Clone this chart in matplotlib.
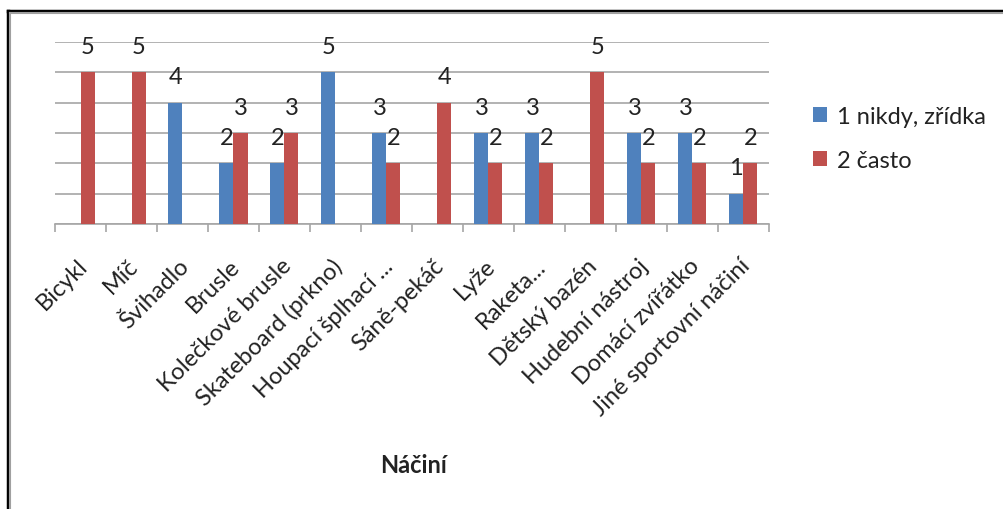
import matplotlib.pyplot as plt
import numpy as np
from matplotlib.lines import Line2D

plt.rcParams['font.family'] = ['Lato', 'DejaVu Sans']

# data
kategorie = ['Bicykl', 'Míč', 'Švihadlo', 'Brusle', 'Kolečkové brusle',
             'Skateboard (prkno)', 'Houpací šplhací ...', 'Sáně-pekáč', 'Lyže',
             'Raketa...', 'Dětský bazén', 'Hudební nástroj', 'Domácí zvířátko',
             'Jiné sportovní náčiní']
nikdy = [0, 0, 4, 2, 2, 5, 3, 0, 3, 3, 0, 3, 3, 1]
casto = [5, 5, 0, 3, 3, 0, 2, 4, 2, 2, 5, 2, 2, 2]
serie = ['1 nikdy, zřídka', '2 často']
barvy = ['#4F81BD', '#C0504D']

fs = 17
txt = '#222222'

fig = plt.figure(figsize=(10.04, 5.10), dpi=100)
ax = fig.add_axes([0.0548, 0.5588, 0.711, 0.357])

x = np.arange(len(kategorie))
w = 0.275
for i, (vals, name, col) in enumerate(zip([nikdy, casto], serie, barvy)):
    pos = x + (i - 0.5) * w
    keep = [j for j, v in enumerate(vals) if v > 0]
    ax.bar(pos[keep], [vals[j] for j in keep], width=w, color=col, label=name, zorder=3)
    for j in keep:
        ax.annotate(str(vals[j]), (pos[j], vals[j]), xytext=(0, 11),
                    textcoords='offset points', ha='center', va='bottom',
                    fontsize=fs, color=txt)

ax.set_xlim(-0.5, len(kategorie) - 0.5)
ax.set_ylim(0, 6)
ax.set_yticks(range(0, 7))
ax.yaxis.grid(True, color='#A6A6A6', linewidth=1.2, zorder=0)
ax.tick_params(axis='y', left=False, labelleft=False)
for s in ['top', 'right', 'left']:
    ax.spines[s].set_visible(False)
ax.spines['bottom'].set_color('#A6A6A6')
ax.spines['bottom'].set_linewidth(1.2)

ax.set_xticks(np.arange(len(kategorie) + 1) - 0.5, minor=False)
ax.set_xticklabels([])
ax.tick_params(axis='x', which='major', length=6, color='#A6A6A6', width=1.2)
ax.set_xticks(x - 0.08, minor=True)
ax.set_xticklabels(kategorie, minor=True, rotation=45, ha='right',
                   rotation_mode='anchor', fontsize=fs, color=txt)
ax.tick_params(axis='x', which='minor', length=0, pad=22)

fig.text(413 / 1004, 1 - 466 / 510, 'Náčiní', fontsize=fs, fontweight='bold',
         ha='center', va='center', color=txt)

ax.legend(loc='center left', bbox_to_anchor=(1.032, 0.47), frameon=False,
          fontsize=fs, handlelength=0.6, handleheight=0.6, handletextpad=0.4,
          labelspacing=0.95, labelcolor=txt)

# frame of the chart area
fig.add_artist(Line2D([0.0075, 0.0075], [0.0, 0.977], color='black', linewidth=2.5, transform=fig.transFigure))
fig.add_artist(Line2D([0.0075, 1.0], [0.977, 0.977], color='black', linewidth=2.5, transform=fig.transFigure))
fig.add_artist(Line2D([0.0100, 0.0100], [0.0, 0.972], color='#A0A0A0', linewidth=1.5, transform=fig.transFigure))
fig.add_artist(Line2D([0.0100, 1.0], [0.972, 0.972], color='#A0A0A0', linewidth=1.5, transform=fig.transFigure))

fig.savefig('out.png', dpi=100)
